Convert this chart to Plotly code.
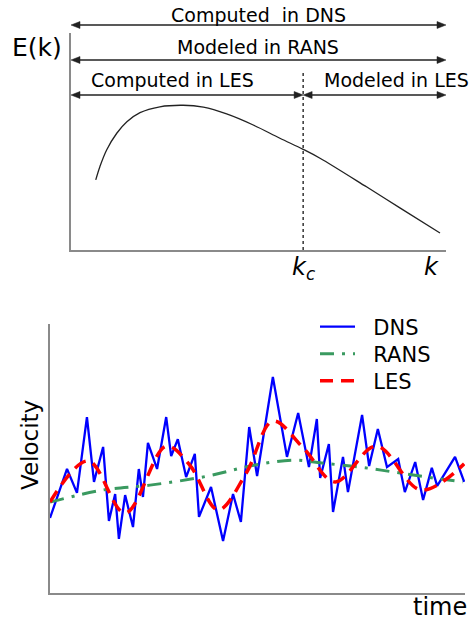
import plotly.graph_objects as go

# ---------------- data: energy spectrum (top panel) ----------------
k_vals = [6.6, 7.7, 9.5, 12.2, 14.9, 18.4, 23.7, 29.9, 35.3, 41.5, 48.6, 55.7, 61.9, 66.4, 78.9, 87.7, 98.4]
E_vals = [3.23, 3.84, 4.61, 5.38, 5.91, 6.33, 6.60, 6.67, 6.58, 6.27, 5.76, 5.15, 4.64, 4.23, 2.90, 1.94, 0.78]
K_MIN = 0
K_C = 61.9
K_MAX = 100
KC_LINE_TOP = 8.29

# ---------------- data: velocity signals (bottom panel) ----------------
dns_t = [0, 4.1, 6.5, 8.9, 10.6, 12.8, 14.2, 15.7, 16.6, 18.1, 20.0, 21.4, 22.4, 23.6, 25.8,
         28.0, 29.2, 30.8, 32.8, 34.9, 35.9, 38.8, 41.7, 44.1, 46.0, 48.0, 49.9, 53.7, 57.1,
         59.8, 62.4, 64.3, 65.1, 67.2, 68.2, 70.6, 71.8, 75.2, 76.9, 79.0, 81.2, 83.9, 85.5,
         88.0, 89.9, 92.0, 93.3, 97.6, 99.8]
dns_v = [2.79, 4.61, 3.72, 6.54, 4.13, 5.43, 2.68, 3.68, 2.01, 3.64, 2.45, 4.61, 3.57, 5.58, 4.61,
         6.54, 5.09, 5.72, 4.31, 5.17, 2.83, 3.94, 1.93, 3.68, 2.64, 6.17, 4.35, 8.03, 5.06,
         6.69, 4.68, 6.47, 4.28, 5.54, 3.01, 5.06, 3.75, 6.62, 4.72, 6.10, 4.68, 4.98, 3.75,
         4.87, 3.46, 4.65, 3.98, 5.06, 4.13]

rans_t = [0, 12.8, 24.1, 38.1, 49.4, 59.0, 65.5, 74.7, 82.7, 90.8, 99.5]
rans_v = [3.38, 3.83, 4.01, 4.35, 4.76, 4.94, 4.83, 4.68, 4.50, 4.31, 4.13]

les_t = [0, 9.2, 18.1, 28.0, 33.7, 40.5, 47.3, 53.7, 61.0, 68.7, 78.6, 89.4, 99.8]
les_v = [3.38, 4.91, 2.97, 5.46, 4.75, 3.09, 4.46, 6.39, 5.40, 4.13, 5.46, 3.83, 4.80]

series_names = ["DNS", "RANS", "LES"]

W, H = 473, 623
FONT = "DejaVu Sans"


def px_x(p):
    return p / W


def px_y(p):
    return 1 - p / H


fig = go.Figure()

# top panel curve
fig.add_trace(go.Scatter(x=k_vals, y=E_vals, mode="lines", line=dict(color="#222222", width=1.3, shape="spline"),
                         showlegend=False, xaxis="x", yaxis="y", hoverinfo="skip"))

# bottom panel signals (each with its own legend box so rows sit where the reference has them)
fig.add_trace(go.Scatter(x=dns_t, y=dns_v, mode="lines", name="\u00a0\u00a0" + series_names[0],
                         line=dict(color="#0000ff", width=2.3), xaxis="x2", yaxis="y2", legend="legend"))
fig.add_trace(go.Scatter(x=rans_t, y=rans_v, mode="lines", name="\u00a0\u00a0" + series_names[1],
                         line=dict(color="#3a9a60", width=3, dash="14px,8px,3px,8px", shape="spline"),
                         xaxis="x2", yaxis="y2", legend="legend2"))
fig.add_trace(go.Scatter(x=les_t, y=les_v, mode="lines", name="\u00a0\u00a0" + series_names[2],
                         line=dict(color="#ff0000", width=3.5, dash="13px,8px", shape="spline"),
                         xaxis="x2", yaxis="y2", legend="legend3"))

axis_common = dict(showgrid=False, zeroline=False, showticklabels=False, ticks="",
                   showline=True, linecolor="#8a8a8a", linewidth=2)

legend_common = dict(xanchor="left", yanchor="middle", bgcolor="rgba(0,0,0,0)",
                     font=dict(family=FONT, size=21, color="black"), itemwidth=35)

fig.update_layout(
    width=W, height=H,
    margin=dict(l=0, r=0, t=0, b=0),
    paper_bgcolor="white", plot_bgcolor="white",
    font=dict(family=FONT, color="black"),
    xaxis=dict(domain=[px_x(71), px_x(446)], range=[K_MIN, K_MAX], anchor="y", **axis_common),
    yaxis=dict(domain=[px_y(250), px_y(33)], range=[0, 10], anchor="x", **axis_common),
    xaxis2=dict(domain=[px_x(50), px_x(465)], range=[0, 100], anchor="y2", **axis_common),
    yaxis2=dict(domain=[px_y(593), px_y(324)], range=[0, 10], anchor="x2", **axis_common),
    legend=dict(x=px_x(315), y=px_y(327), **legend_common),
    legend2=dict(x=px_x(315), y=px_y(354), **legend_common),
    legend3=dict(x=px_x(315), y=px_y(381), **legend_common),
    showlegend=True,
)

# dashed cutoff line
fig.add_shape(type="line", xref="x", yref="y", x0=K_C, x1=K_C, y0=0, y1=KC_LINE_TOP,
              line=dict(color="black", width=1.2, dash="3px,3px"))

# double arrows: shaft + two filled heads
HEAD_LEN = 9 / 3.75      # in k units (3.75 px per unit)
HEAD_HALF = 3.5 / H      # in paper units
arrow_rows = [(K_MIN, K_MAX, 25), (K_MIN, K_MAX, 60), (K_MIN, K_C, 95), (K_C, K_MAX, 95)]
for k0, k1, yp in arrow_rows:
    yy = px_y(yp)
    fig.add_shape(type="line", xref="x", yref="paper", x0=k0 + 1, x1=k1 - 1, y0=yy, y1=yy,
                  line=dict(color="#222222", width=1.5))
    fig.add_shape(type="path", xref="x", yref="paper",
                  path=f"M {k0} {yy} L {k0 + HEAD_LEN} {yy + HEAD_HALF} L {k0 + HEAD_LEN} {yy - HEAD_HALF} Z",
                  fillcolor="#222222", line=dict(color="#222222", width=0.5))
    fig.add_shape(type="path", xref="x", yref="paper",
                  path=f"M {k1} {yy} L {k1 - HEAD_LEN} {yy + HEAD_HALF} L {k1 - HEAD_LEN} {yy - HEAD_HALF} Z",
                  fillcolor="#222222", line=dict(color="#222222", width=0.5))

labels = [
    ("Computed\u00a0 in DNS", 258, 15, 19, "center"),
    ("Modeled in RANS", 258, 47, 19, "center"),
    ("Computed in LES", 172, 80, 19, "center"),
    ("Modeled in LES", 322, 80, 19, "left"),
    ("E(k)", 37, 48, 25, "center"),
]
for txt, xp, yp, sz, anc in labels:
    fig.add_annotation(x=px_x(xp), y=px_y(yp), xref="paper", yref="paper", text=txt, showarrow=False,
                       xanchor=anc, yanchor="middle", font=dict(family=FONT, size=sz, color="black"))

fig.add_annotation(x=K_C, y=px_y(268), xref="x", yref="paper", text="<i>k</i><sub><i>c</i></sub>",
                   showarrow=False, xanchor="center", yanchor="middle",
                   font=dict(family=FONT, size=24, color="black"))
fig.add_annotation(x=px_x(431), y=px_y(267), xref="paper", yref="paper", text="<i>k</i>",
                   showarrow=False, xanchor="center", yanchor="middle",
                   font=dict(family=FONT, size=24, color="black"))

fig.add_annotation(x=px_x(30), y=px_y(445), xref="paper", yref="paper", text="Velocity", textangle=-90,
                   showarrow=False, xanchor="center", yanchor="middle",
                   font=dict(family=FONT, size=23, color="black"))
fig.add_annotation(x=px_x(440), y=px_y(607), xref="paper", yref="paper", text="time",
                   showarrow=False, xanchor="center", yanchor="middle",
                   font=dict(family=FONT, size=24, color="black"))

fig.write_html("out.html")
